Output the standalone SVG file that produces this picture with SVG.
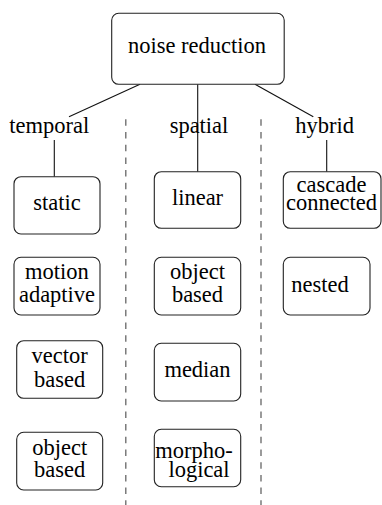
<svg xmlns="http://www.w3.org/2000/svg" width="382" height="505" viewBox="0 0 382 505">
<style>
.box{fill:#fff;stroke:#222;stroke-width:1.1}
.t{font-family:'Liberation Serif','Times New Roman',serif;font-size:22.5px;fill:#000;text-anchor:middle}
.ln{stroke:#111;stroke-width:1.1;fill:none}
.dash{stroke:#666;stroke-width:1.3;stroke-dasharray:6.5 6.2;fill:none}
</style>
<rect width="382" height="505" fill="#fff"/>
<g id="connectors">
<line class="ln" x1="140" y1="84.3" x2="69" y2="116.7"/>
<line class="ln" x1="197.7" y1="84.3" x2="197.7" y2="171.7"/>
<line class="ln" x1="255" y1="84.3" x2="313.3" y2="116.7"/>
<line class="ln" x1="54.3" y1="140" x2="54.3" y2="176.7"/>
<line class="ln" x1="326.7" y1="140" x2="326.7" y2="171.7"/>
<line class="dash" x1="125.8" y1="119.3" x2="125.8" y2="505"/>
<line class="dash" x1="261" y1="119.3" x2="261" y2="505"/>
</g>
<g id="root"><rect class="box" x="111.7" y="13.3" width="172.5" height="71" rx="7"/><text class="t" x="197" y="53">noise reduction</text></g>
<g id="temporal"><text class="t" x="49.3" y="133">temporal</text></g>
<g id="spatial"><text class="t" x="199" y="133">spatial</text></g>
<g id="hybrid"><text class="t" x="324.7" y="133">hybrid</text></g>
<g id="static"><rect class="box" x="14" y="176.7" width="86" height="57.3" rx="7"/><text class="t" x="57" y="210">static</text></g>
<g id="motion-adaptive"><rect class="box" x="14" y="257.3" width="86" height="57.7" rx="7"/><text class="t" x="57" y="279">motion</text><text class="t" x="57" y="301.7">adaptive</text></g>
<g id="vector-based"><rect class="box" x="16.7" y="340.7" width="86" height="57.6" rx="7"/><text class="t" x="59.7" y="363.3">vector</text><text class="t" x="59.7" y="386.7">based</text></g>
<g id="object-based-t"><rect class="box" x="16.7" y="432.3" width="86" height="57.7" rx="7"/><text class="t" x="59.7" y="455">object</text><text class="t" x="59.7" y="476.7">based</text></g>
<g id="linear"><rect class="box" x="154.3" y="171.7" width="86.4" height="56.6" rx="7"/><text class="t" x="197.5" y="205">linear</text></g>
<g id="object-based-s"><rect class="box" x="154.3" y="257.3" width="86.4" height="57.7" rx="7"/><text class="t" x="197.5" y="279">object</text><text class="t" x="197.5" y="301.7">based</text></g>
<g id="median"><rect class="box" x="154.3" y="343.3" width="86.4" height="57.7" rx="7"/><text class="t" x="197.5" y="377.3">median</text></g>
<g id="morphological"><rect class="box" x="154.3" y="429.3" width="86.4" height="57.4" rx="7"/><text class="t" x="194" y="457.7">morpho-</text><text class="t" x="199" y="476.7">logical</text></g>
<g id="cascade-connected"><rect class="box" x="283.3" y="171.7" width="97.7" height="56.6" rx="7"/><text class="t" x="331.5" y="191.7">cascade</text><text class="t" x="331.5" y="210">connected</text></g>
<g id="nested"><rect class="box" x="283.3" y="257.3" width="86.7" height="57.7" rx="7"/><text class="t" x="320" y="291.7">nested</text></g>
</svg>
